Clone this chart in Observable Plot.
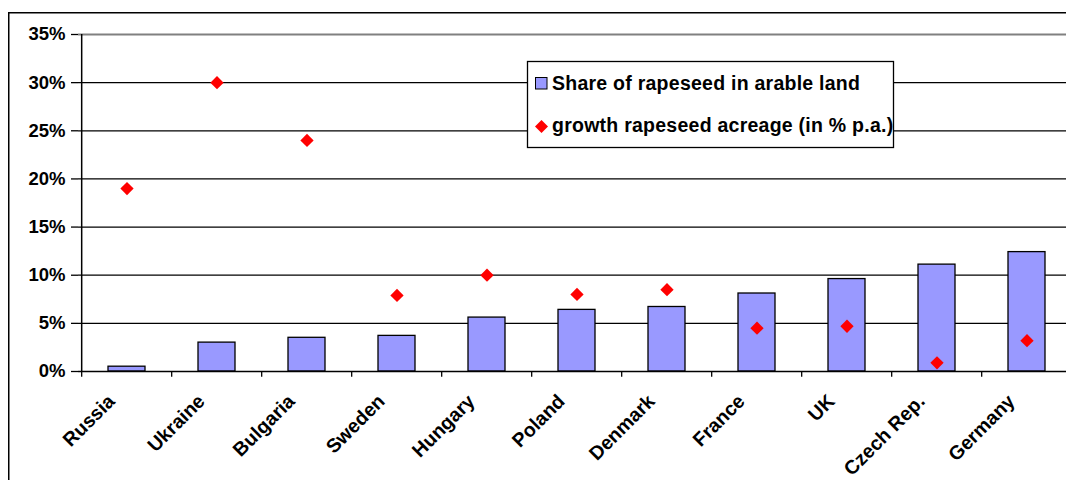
<!DOCTYPE html>
<html>
<head>
<meta charset="utf-8">
<script src="https://cdn.jsdelivr.net/npm/d3@7"></script>
<script src="https://cdn.jsdelivr.net/npm/@observablehq/plot@0.6"></script>
<style>
  html, body { margin: 0; padding: 0; background: #fff; overflow: hidden; }
  #wrap { position: relative; width: 1066px; height: 480px; overflow: hidden; font-family: "Liberation Sans", Arial, sans-serif; }
  #chart { position: absolute; left: 0; top: 0; }
  #legend { position: absolute; left: 527px; top: 61px; }
</style>
</head>
<body>
<div id="wrap">
  <div id="chart"></div>
  <div id="legend"></div>
</div>
<script>
// ---- data ----
const countries = ["Russia", "Ukraine", "Bulgaria", "Sweden", "Hungary", "Poland", "Denmark", "France", "UK", "Czech Rep.", "Germany"];
const share = [0.5, 3.0, 3.5, 3.7, 5.6, 6.4, 6.7, 8.1, 9.6, 11.1, 12.4];      // Share of rapeseed in arable land (%)
const growth = [19.0, 30.0, 24.0, 7.9, 10.0, 8.0, 8.5, 4.5, 4.7, 0.9, 3.2];   // growth rapeseed acreage (% p.a.)
const yTicks = [0, 5, 10, 15, 20, 25, 30, 35];
const seriesNames = ["Share of rapeseed in arable land", "growth rapeseed acreage (in % p.a.)"];

const data = countries.map((c, i) => ({country: c, share: share[i], growth: growth[i]}));

const xRange = [78, 1075];
const step = (xRange[1] - xRange[0]) / countries.length;

const diamond = {
  draw(ctx, size) {
    const r = Math.sqrt(size / 2);
    ctx.moveTo(0, -r); ctx.lineTo(r, 0); ctx.lineTo(0, r); ctx.lineTo(-r, 0); ctx.closePath();
  }
};

const font = '"Liberation Sans", Arial, sans-serif';

const plot = Plot.plot({
  width: 1066,
  height: 480,
  marginLeft: 78,
  marginRight: 0,
  marginTop: 34,
  marginBottom: 109,
  style: {background: "transparent", fontFamily: font, overflow: "hidden"},
  x: {type: "band", domain: countries, range: xRange, paddingInner: 0.59, paddingOuter: 0.295, axis: null},
  y: {domain: [0, 35], axis: null},
  marks: [
    Plot.gridY(yTicks.filter(d => d > 0 && d < 35), {stroke: "#000", strokeOpacity: 1, strokeWidth: 1.3}),
    Plot.gridY([35], {stroke: "#808080", strokeOpacity: 1, strokeWidth: 2}),
    Plot.barY(data, {x: "country", y: "share", fill: "#9999ff", stroke: "#000", strokeWidth: 1.3}),
    Plot.dot(data, {x: "country", y: "growth", symbol: diamond, r: 5.3, fill: "#ff0000", stroke: "none"}),
    Plot.ruleY([0], {stroke: "#000", strokeWidth: 1.5}),
    Plot.ruleX(countries, {x: d => d, y1: 0, y2: -0.6, dx: -step / 2, stroke: "#000", strokeWidth: 1.3}),
    Plot.ruleX([countries[0]], {x: d => d, y1: 0, y2: 35, dx: -step / 2, stroke: "#000", strokeWidth: 1.5}),
    Plot.axisY({ticks: yTicks, tickFormat: d => d + "%", tickSize: 7, tickPadding: 6, fontSize: 18.5, fontWeight: "bold", stroke: "#000", strokeWidth: 1.3}),
    Plot.text(data, {x: "country", y: () => 0, text: "country", rotate: -45, textAnchor: "end", lineAnchor: "bottom", dx: -11, dy: 31, fontSize: 19.5, fontWeight: "bold", fill: "#000"})
  ]
});
// outer chart-area border (left and top edges only)
d3.select(plot).append("path")
  .attr("d", "M8.75,490V12.75H1066")
  .attr("fill", "none").attr("stroke", "#000").attr("stroke-width", 1.5);
document.getElementById("chart").appendChild(plot);

// ---- legend ----
const lw = 366, lh = 86;
const lsvg = d3.select("#legend").append("svg").attr("width", lw + 2).attr("height", lh + 2).style("overflow", "visible");
lsvg.append("rect").attr("x", 0.5).attr("y", 0.5).attr("width", lw).attr("height", lh).attr("fill", "#fff").attr("stroke", "#000").attr("stroke-width", 1.3);
lsvg.append("rect").attr("x", 8.5).attr("y", 16.5).attr("width", 11.5).attr("height", 11.5).attr("fill", "#9999ff").attr("stroke", "#000").attr("stroke-width", 1);
lsvg.append("path").attr("transform", "translate(14.5,65.5)").attr("d", "M0,-6.5L6.5,0L0,6.5L-6.5,0Z").attr("fill", "#ff0000");
lsvg.selectAll("text.lg").data(seriesNames).join("text")
  .attr("class", "lg")
  .attr("x", 25)
  .attr("y", (d, i) => i === 0 ? 28.5 : 71)
  .attr("font-family", font)
  .attr("font-weight", "bold")
  .attr("font-size", 19.5)
  .attr("letter-spacing", 0.25)
  .attr("fill", "#000")
  .text(d => d);
</script>
</body>
</html>
